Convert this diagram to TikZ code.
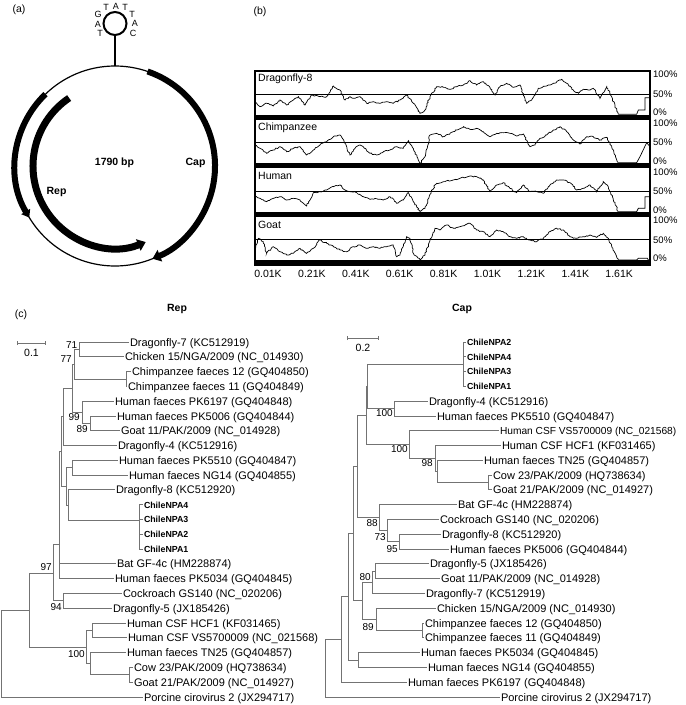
\documentclass[tikz,border=0pt]{standalone}
\usepackage{fontspec}
\setmainfont{Liberation Sans}
\usetikzlibrary{arrows.meta,decorations.pathmorphing}
\begin{document}
\begin{tikzpicture}[x=1pt,y=-1pt,
  every node/.style={inner sep=0pt},
  lab/.style={font=\fontsize{10.5}{12}\selectfont},
  pct/.style={anchor=west, font=\fontsize{9.5}{11}\selectfont},
  boldlab/.style={font=\bfseries\fontsize{10.5}{12}\selectfont},
  dna/.style={font=\fontsize{9}{10}\selectfont},
  leaf/.style={anchor=west, outer sep=1.5pt, font=\fontsize{11}{12}\selectfont, text height=8pt, text depth=0pt},
  leafs/.style={leaf, font=\fontsize{10.2}{12}\selectfont},
  leafb/.style={leaf, font=\bfseries\fontsize{8.8}{11}\selectfont, text height=6.6pt},
  boot/.style={anchor=east, font=\fontsize{10}{12}\selectfont},
  tree/.style={draw=black!55, line width=0.9pt},
  curve/.style={draw=black, line width=0.7pt, decorate, decoration={random steps, segment length=1.6pt, amplitude=0.7pt}},
  tail/.style={draw=black, line width=0.7pt},
  gene/.style={line width=#1, draw=black}
]
\pgfmathsetseed{11}
\useasboundingbox (0,0) rectangle (686,705);

% ================= (a) =================
\node[lab] (la) at (19,10) {(a)};
\coordinate (C) at (115,166);
\draw[line width=1.2pt] (C) circle[radius=100];
\node[circle, draw, line width=2pt, minimum size=23pt] (loop) at (115,23.5) {};
\coordinate (ctop) at (115,66);
\draw[line width=1.6pt] (loop.south) -- (ctop);
\node[dna] (d1) at (98,14) {G};
\node[dna] (d2) at (98,24) {A};
\node[dna] (d3) at (100,33) {T};
\node[dna] (d4) at (106,7) {T};
\node[dna] (d5) at (116,6) {A};
\node[dna] (d6) at (125,7) {T};
\node[dna] (d7) at (132,14) {T};
\node[dna] (d8) at (135,23) {A};
\node[dna] (d9) at (133,33) {C};
% Cap gene
\draw[gene=6pt, -{Triangle[length=8pt,width=12pt]}] ([shift={(-71:100)}]C) arc[start angle=-71, end angle=68, radius=100];
% Rep outer
\draw[gene=6pt, -{Triangle[length=7pt,width=10pt]}] ([shift={(-134:100)}]C) arc[start angle=-134, end angle=-211, radius=100];
% Rep inner
\draw[gene=7pt, -{Triangle[length=8pt,width=12pt]}] ([shift={(-124:82)}]C) arc[start angle=-124, end angle=-292, radius=82];
\node[boldlab] (bp) at (114.5,163) {1790 bp};
\node[boldlab] (capl) at (195.5,163) {Cap};
\node[boldlab] (repl) at (56.5,192) {Rep};

% ================= (b) =================
\node[lab] (lb) at (260,12) {(b)};
\begin{scope}[shift={(240,0)}, scale=0.33333]
\draw[curve] plot coordinates {(45,305) (60,320) (80,310) (100,318) (120,300) (140,315) (160,300) (175,290) (195,315) (215,285) (240,290) (260,290) (280,258) (300,270) (315,300) (330,290) (345,295) (360,290) (380,310) (400,305) (420,310) (440,305) (460,310) (480,300) (500,285) (520,310) (540,340) (555,330) (570,290) (590,260) (610,262) (630,268) (650,260) (670,255) (690,242) (710,255) (730,245) (750,262) (765,285) (780,260) (800,250) (820,262) (840,255) (860,310) (875,300) (895,265) (920,258) (940,250) (965,238) (980,250) (1000,270) (1015,280) (1030,268) (1050,270) (1060,265) (1080,295) (1100,258) (1115,290) (1135,343)};
\draw[tail] (1135,343) -- (1190,343) -- (1195,330) -- (1215,330) -- (1215,293) -- (1230,293);
\draw[curve] plot coordinates {(45,435) (60,445) (80,460) (100,450) (120,440) (140,455) (160,445) (180,440) (200,465) (220,450) (240,435) (260,425) (280,410) (300,405) (315,430) (330,465) (345,445) (360,435) (375,445) (390,460) (410,465) (430,455) (450,450) (470,440) (490,445) (505,422) (520,445) (540,490) (555,470) (570,405) (590,400) (610,410) (630,400) (650,390) (670,380) (690,388) (710,385) (730,395) (750,410) (770,400) (790,398) (810,400) (830,408) (850,402) (870,440) (885,435) (900,415) (920,405) (940,390) (960,380) (980,395) (1000,420) (1020,432) (1040,410) (1060,410) (1080,420) (1100,412) (1115,440) (1135,488)};
\draw[tail] (1135,488) -- (1190,488) -- (1200,470) -- (1220,428) -- (1230,440);
\draw[curve] plot coordinates {(45,590) (60,595) (80,605) (100,595) (120,590) (140,600) (160,595) (180,600) (200,618) (220,578) (240,575) (260,570) (280,560) (300,555) (315,570) (330,575) (350,578) (370,590) (390,598) (410,596) (430,600) (450,590) (470,610) (490,600) (505,578) (520,605) (540,635) (555,625) (575,570) (590,550) (610,545) (640,540) (660,535) (690,528) (710,530) (730,540) (750,575) (770,555) (790,548) (810,565) (830,578) (850,555) (870,575) (890,575) (910,580) (930,555) (950,540) (970,540) (990,548) (1010,570) (1030,565) (1050,555) (1070,575) (1090,545) (1105,560) (1135,635)};
\draw[tail] (1135,635) -- (1190,635) -- (1195,625) -- (1215,625) -- (1215,590) -- (1230,590);
\draw[curve] plot coordinates {(45,745) (55,715) (70,725) (80,760) (100,740) (120,755) (140,765) (160,760) (180,745) (200,760) (220,745) (240,720) (260,730) (280,740) (300,750) (320,755) (340,740) (360,735) (380,745) (400,740) (420,745) (440,740) (460,735) (470,770) (480,765) (500,710) (510,715) (520,760) (540,780) (555,765) (570,720) (585,685) (600,690) (620,675) (640,685) (660,680) (690,670) (710,690) (730,695) (750,710) (770,690) (790,695) (810,710) (830,715) (850,710) (870,720) (890,725) (910,715) (930,695) (950,685) (970,690) (990,710) (1010,715) (1030,710) (1050,705) (1070,712) (1090,700) (1105,715) (1135,780)};
\draw[tail] (1135,780) -- (1190,780) -- (1195,775) -- (1222,775) -- (1225,780) -- (1230,780);
\end{scope}
\foreach \t/\n in {71/Dragonfly-8, 119.6/Chimpanzee, 168.3/Human, 216.9/Goat}{
  \fill[black] (255,\t+43.5) rectangle (650,\t+48.7);
  \draw[line width=1pt] (255,\t+23) -- (650,\t+23);
  \node[lab, anchor=west] at (258,\t+8) {\n};
  \node[pct] at (653,\t+3.5) {100\%};
  \node[pct] at (653,\t+23) {50\%};
  \node[pct] at (653,\t+41.5) {0\%};
}
\draw[line width=1.2pt] (255,71) rectangle (650,265.6);
\foreach \k [count=\i from 0] in {0.01K,0.21K,0.41K,0.61K,0.81K,1.01K,1.21K,1.41K,1.61K}{
  \node[lab] at (268+43.9*\i,274) {\k};
}

% ================= (c) =================
\node[lab] (lc) at (21,315) {(c)};
\node[boldlab] (trep) at (177,309) {Rep};
\node[boldlab] (tcap) at (462,309) {Cap};
% scale bars
\coordinate (sr1) at (17,343); \coordinate (sr2) at (46,343);
\draw[tree, {Bar[width=4pt]}-{Bar[width=4pt]}] (sr1) -- (sr2);
\node[lab] (sr) at (31.5,353) {0.1};
\coordinate (sc1) at (347,338); \coordinate (sc2) at (379,338);
\draw[tree, {Bar[width=4pt]}-{Bar[width=4pt]}] (sc1) -- (sc2);
\node[lab] (sc) at (363,348) {0.2};

% ---- Rep leaves ----
\node[leaf] (r0) at (128.5,342) {Dragonfly-7 (KC512919)};
\node[leaf] (r1) at (123.5,356.8) {Chicken 15/NGA/2009 (NC\_014930)};
\node[leaf] (r2) at (130.5,371.6) {Chimpanzee faeces 12 (GQ404850)};
\node[leaf] (r3) at (126.5,386.4) {Chimpanzee faeces 11 (GQ404849)};
\node[leaf] (r4) at (113.5,401.2) {Human faeces PK6197 (GQ404848)};
\node[leaf] (r5) at (115.5,416) {Human faeces PK5006 (GQ404844)};
\node[leaf] (r6) at (119.5,430.7) {Goat 11/PAK/2009 (NC\_014928)};
\node[leaf] (r7) at (116.5,445.5) {Dragonfly-4 (KC512916)};
\node[leaf] (r8) at (117.5,460.3) {Human faeces PK5510 (GQ404847)};
\node[leaf] (r9) at (127.5,475.1) {Human faeces NG14 (GQ404855)};
\node[leaf] (r10) at (114.5,489.9) {Dragonfly-8 (KC512920)};
\node[leafb] (r11) at (142.5,504.7) {ChileNPA4};
\node[leafb] (r12) at (142.5,519.5) {ChileNPA3};
\node[leafb] (r13) at (142.5,534.3) {ChileNPA2};
\node[leafb] (r14) at (142.5,549.1) {ChileNPA1};
\node[leaf] (r15) at (115.5,563.9) {Bat GF-4c (HM228874)};
\node[leaf] (r16) at (113.5,578.6) {Human faeces PK5034 (GQ404845)};
\node[leaf] (r17) at (121.5,593.4) {Cockroach GS140 (NC\_020206)};
\node[leaf] (r18) at (111.5,608.2) {Dragonfly-5 (JX185426)};
\node[leaf] (r19) at (125.5,623) {Human CSF HCF1 (KF031465)};
\node[leaf] (r20) at (126.5,637.8) {Human CSF VS5700009 (NC\_021568)};
\node[leaf] (r21) at (125.5,652.6) {Human faeces TN25 (GQ404857)};
\node[leaf] (r22) at (132.5,667.4) {Cow 23/PAK/2009 (HQ738634)};
\node[leaf] (r23) at (132.5,682.2) {Goat 21/PAK/2009 (NC\_014927)};
\node[leaf] (r24) at (142.5,697) {Porcine cirovirus 2 (JX294717)};
% ---- Rep internal nodes ----
\coordinate (rA1) at (79,349.4);
\coordinate (rCh) at (126,379);
\coordinate (rN77) at (74,364);
\coordinate (rN89) at (90,423.4);
\coordinate (rN99) at (82,412.3);
\coordinate (rNa) at (72,388);
\coordinate (rNb) at (63,416.8);
\coordinate (rNpk) at (72,467.7);
\coordinate (rNchile) at (139,520);
\coordinate (rNd8) at (68,505);
\coordinate (rNc) at (66,486);
\coordinate (rNd) at (61,451.4);
\coordinate (rNe) at (59,544);
\coordinate (rN94) at (63,600.8);
\coordinate (rN97) at (53,573);
\coordinate (rNhcf) at (92,630.4);
\coordinate (rNcow) at (129,674.8);
\coordinate (rNtn) at (90,663.7);
\coordinate (rN100) at (86,647);
\coordinate (rNA) at (29,610);
\coordinate (rRoot) at (1,653.5);
\foreach \p/\c in {rA1/r0, rA1/r1, rCh/r2, rCh/r3, rN77/rA1, rN77/rCh, rN89/r5, rN89/r6, rN99/r4, rN99/rN89, rNa/rN77, rNa/rN99, rNb/rNa, rNb/r7, rNpk/r8, rNpk/r9, rNchile/r11, rNchile/r12, rNchile/r13, rNchile/r14, rNd8/r10, rNd8/rNchile, rNc/rNpk, rNc/rNd8, rNd/rNb, rNd/rNc, rNe/rNd, rNe/r15, rNe/r16, rN94/r17, rN94/r18, rN97/rNe, rN97/rN94, rNhcf/r19, rNhcf/r20, rNcow/r22, rNcow/r23, rNtn/r21, rNtn/rNcow, rN100/rNhcf, rN100/rNtn, rNA/rN97, rNA/rN100, rRoot/rNA, rRoot/r24}
  \draw[tree] (\p) |- (\c);
\node[boot] (b71) at (77.5,345) {71};
\node[boot] (b77) at (72,359.5) {77};
\node[boot] (b99) at (80,417) {99};
\node[boot] (b89) at (88,429.5) {89};
\node[boot] (b97) at (52,567) {97};
\node[boot] (b94) at (62,607) {94};
\node[boot] (b100r) at (85,654) {100};

% ---- Cap leaves ----
\node[leafb] (c0) at (465.5,342) {ChileNPA2};
\node[leafb] (c1) at (465.5,356.8) {ChileNPA4};
\node[leafb] (c2) at (465.5,371.6) {ChileNPA3};
\node[leafb] (c3) at (465.5,386.4) {ChileNPA1};
\node[leaf] (c4) at (427.5,401.2) {Dragonfly-4 (KC512916)};
\node[leaf] (c5) at (435.5,416) {Human faeces PK5510 (GQ404847)};
\node[leafs] (c6) at (498.5,430.7) {Human CSF VS5700009 (NC\_021568)};
\node[leaf] (c7) at (500.5,445.5) {Human CSF HCF1 (KF031465)};
\node[leaf] (c8) at (482.5,460.3) {Human faeces TN25 (GQ404857)};
\node[leaf] (c9) at (491.5,475.1) {Cow 23/PAK/2009 (HQ738634)};
\node[leaf] (c10) at (491.5,489.9) {Goat 21/PAK/2009 (NC\_014927)};
\node[leaf] (c11) at (456.5,504.7) {Bat GF-4c (HM228874)};
\node[leaf] (c12) at (438.5,519.5) {Cockroach GS140 (NC\_020206)};
\node[leaf] (c13) at (440.5,534.3) {Dragonfly-8 (KC512920)};
\node[leaf] (c14) at (448.5,549.1) {Human faeces PK5006 (GQ404844)};
\node[leaf] (c15) at (428.5,563.9) {Dragonfly-5 (JX185426)};
\node[leaf] (c16) at (439.5,578.6) {Goat 11/PAK/2009 (NC\_014928)};
\node[leaf] (c17) at (424.5,593.4) {Dragonfly-7 (KC512919)};
\node[leaf] (c18) at (435.5,608.2) {Chicken 15/NGA/2009 (NC\_014930)};
\node[leaf] (c19) at (423.5,623) {Chimpanzee faeces 12 (GQ404850)};
\node[leaf] (c20) at (423.5,637.8) {Chimpanzee faeces 11 (GQ404849)};
\node[leaf] (c21) at (419.5,652.6) {Human faeces PK5034 (GQ404845)};
\node[leaf] (c22) at (426.5,667.4) {Human faeces NG14 (GQ404855)};
\node[leaf] (c23) at (406.5,682.2) {Human faeces PK6197 (GQ404848)};
\node[leaf] (c24) at (499.5,697) {Porcine cirovirus 2 (JX294717)};
% ---- Cap internal nodes ----
\coordinate (cNchile) at (463,364.2);
\coordinate (cN100a) at (394,408.6);
\coordinate (cNx) at (367,386.4);
\coordinate (cNcg) at (488,482.5);
\coordinate (cN98) at (437,471.4);
\coordinate (cNh) at (435,458.5);
\coordinate (cN100b) at (409,444.6);
\coordinate (cNtop) at (366,415.5);
\coordinate (cN95) at (399,541.7);
\coordinate (cN73) at (387,530.6);
\coordinate (cN88) at (379,517.7);
\coordinate (cN80a) at (375,571.3);
\coordinate (cN80) at (372,582.4);
\coordinate (cNchimp) at (422,630.4);
\coordinate (cN89) at (376,619.3);
\coordinate (cNq) at (362,600.9);
\coordinate (cNw) at (357,466.6);
\coordinate (cNr) at (353,533.8);
\coordinate (cNpk) at (358,660);
\coordinate (cNs) at (348,596.9);
\coordinate (cNt) at (341,639.6);
\coordinate (cRoot) at (325,668.3);
\foreach \p/\c in {cNchile/c0, cNchile/c1, cNchile/c2, cNchile/c3, cN100a/c4, cN100a/c5, cNx/cNchile, cNx/cN100a, cNcg/c9, cNcg/c10, cN98/c8, cN98/cNcg, cNh/c7, cNh/cN98, cN100b/c6, cN100b/cNh, cNtop/cNx, cNtop/cN100b, cN95/c13, cN95/c14, cN73/c12, cN73/cN95, cN88/c11, cN88/cN73, cN80a/c15, cN80a/c16, cN80/cN80a, cN80/c17, cNchimp/c19, cNchimp/c20, cN89/c18, cN89/cNchimp, cNq/cN80, cNq/cN89, cNw/cNtop, cNw/cN88, cNr/cNw, cNr/cNq, cNpk/c21, cNpk/c22, cNs/cNr, cNs/cNpk, cNt/cNs, cNt/c23, cRoot/cNt, cRoot/c24}
  \draw[tree] (\p) |- (\c);
\node[boot] (cb100a) at (393,413) {100};
\node[boot] (cb100b) at (408,449) {100};
\node[boot] (cb98) at (433,463) {98};
\node[boot] (cb88) at (378,523) {88};
\node[boot] (cb73) at (386,537) {73};
\node[boot] (cb95) at (398,549.5) {95};
\node[boot] (cb80) at (371,577) {80};
\node[boot] (cb89) at (374,627) {89};
\end{tikzpicture}
\end{document}
